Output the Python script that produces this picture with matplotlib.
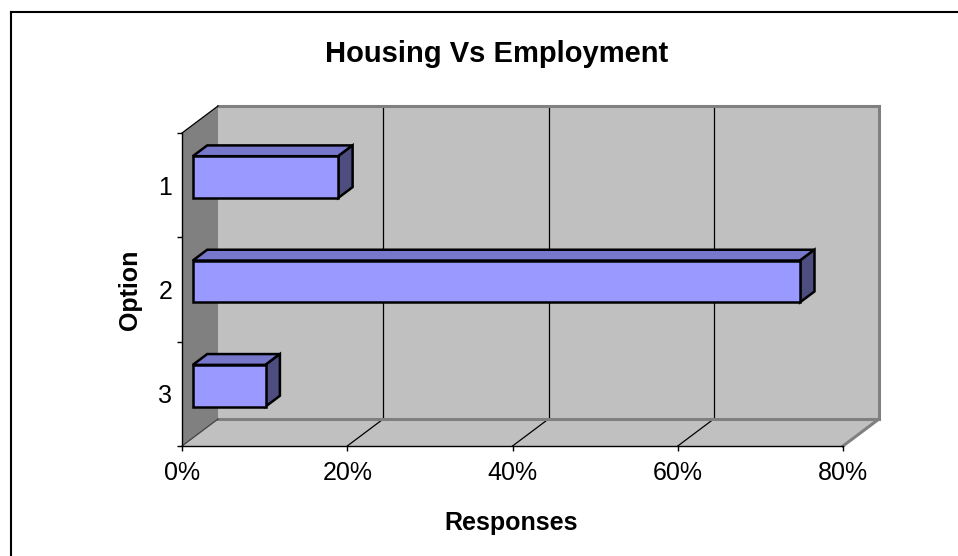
import numpy as np
import matplotlib
matplotlib.use('Agg')
import matplotlib.pyplot as plt
from matplotlib.lines import Line2D

plt.rcParams['font.family'] = ['Liberation Sans', 'DejaVu Sans']

# data
options = ['1', '2', '3']
responses = [17.6, 73.5, 8.8]          # percent
x_ticks = [0, 20, 40, 60, 80]
x_labels = ['0%', '20%', '40%', '60%', '80%']

W, H = 958, 556
fig = plt.figure(figsize=(W / 100, H / 100), dpi=100)

# front plane of the 3d box, in pixels
L, R, T, B = 182, 843, 133, 446
ax = fig.add_axes([L / W, 1 - B / H, (R - L) / W, (B - T) / H])
ax.set_xlim(0, 80)
ax.set_ylim(3.5, 0.5)
ax.patch.set_visible(False)

# depth offset (full depth) in data units: 36 px right, 27 px up
DX = 36 * 80 / (R - L)
DY = -27 * 3 / (B - T)


def p(x, y, d):
    return (x + d * DX, y + d * DY)


def poly(pts, **kw):
    xs, ys = zip(*pts)
    ax.fill(xs, ys, clip_on=False, **kw)


def line(a, b, **kw):
    ax.plot([a[0], b[0]], [a[1], b[1]], clip_on=False, **kw)


x0, x1 = 0, 80
y0, y1 = 0.5, 3.5

# back wall
poly([p(x0, y0, 1), p(x1, y0, 1), p(x1, y1, 1), p(x0, y1, 1)],
     facecolor='#c0c0c0', edgecolor='none', zorder=0.5)
# left wall
poly([p(x0, y0, 0), p(x0, y0, 1), p(x0, y1, 1), p(x0, y1, 0)],
     facecolor='#808080', edgecolor='none', zorder=0.6)
# floor
poly([p(x0, y1, 0), p(x1, y1, 0), p(x1, y1, 1), p(x0, y1, 1)],
     facecolor='#c0c0c0', edgecolor='none', zorder=0.6)

# gridlines on wall and floor
for v in x_ticks[1:-1]:
    line(p(v, y0, 1), p(v, y1, 1), color='black', lw=0.9, zorder=0.8)
    line(p(v, y1, 0), p(v, y1, 1), color='black', lw=0.9, zorder=0.8)

# wall edges
g = '#808080'
line(p(x0, y0, 1), p(x1, y0, 1), color=g, lw=2.2, zorder=0.9)
line(p(x1, y0, 1), p(x1, y1, 1), color=g, lw=2.2, zorder=0.9)
line(p(x0, y1, 1), p(x1, y1, 1), color=g, lw=2.2, zorder=0.9)
line(p(x1, y1, 0), p(x1, y1, 1), color=g, lw=2.2, zorder=0.9)
line(p(x0, y0, 0), p(x0, y0, 1), color='black', lw=0.9, zorder=0.9)
line(p(x0, y1, 0), p(x0, y1, 1), color='#404040', lw=0.9, zorder=0.9)

# bars
d0, d1 = 0.3, 0.7
hw = 0.2
for i, v in enumerate(responses):
    c = i + 1
    top, bot = c - hw, c + hw
    kw = dict(edgecolor='black', lw=1.8, joinstyle='miter', zorder=3)
    poly([p(0, top, d0), p(v, top, d0), p(v, top, d1), p(0, top, d1)],
         facecolor='#7777cc', **kw)
    poly([p(v, top, d0), p(v, bot, d0), p(v, bot, d1), p(v, top, d1)],
         facecolor='#4d4d80', **kw)
    poly([p(0, top, d0), p(v, top, d0), p(v, bot, d0), p(0, bot, d0)],
         facecolor='#9999ff', **kw)

# axes
for s in ['top', 'right']:
    ax.spines[s].set_visible(False)
for s in ['left', 'bottom']:
    ax.spines[s].set_color('black')
    ax.spines[s].set_linewidth(1.0)
ax.set_xticks(x_ticks)
ax.set_xticklabels(x_labels)
ax.set_yticks([1, 2, 3])
ax.set_yticklabels(options)
ax.set_yticks([0.5, 1.5, 2.5, 3.5], minor=True)
ax.tick_params(axis='x', direction='out', length=3.6, width=1, pad=7,
               labelsize=18)
ax.tick_params(axis='y', which='major', length=0, pad=7, labelsize=18)
ax.tick_params(axis='y', which='minor', direction='out', length=3.6, width=1)

fig.text(497 / W, 1 - 62 / H, 'Housing Vs Employment', ha='center',
         va='baseline', fontsize=21, fontweight='bold')
fig.text(511 / W, 1 - 530 / H, 'Responses', ha='center', va='baseline',
         fontsize=18, fontweight='bold')
fig.text(130 / W, 1 - 290 / H, 'Option', ha='center', va='center',
         rotation=90, fontsize=18, fontweight='bold')

# chart border (left and top visible)
fig.add_artist(Line2D([10.5 / W, 10.5 / W], [0, 1 - 12 / H],
                      color='black', lw=1.5))
fig.add_artist(Line2D([10.5 / W, 1], [1 - 12 / H, 1 - 12 / H],
                      color='black', lw=1.5))

fig.savefig('out.png', dpi=100)
